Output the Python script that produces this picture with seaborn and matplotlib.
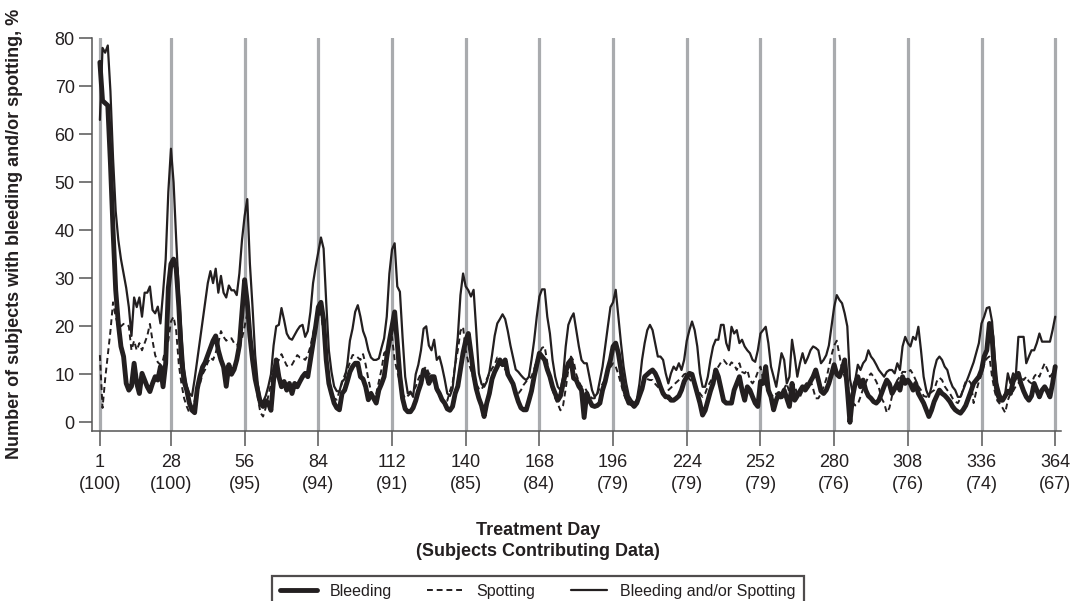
import pandas as pd
import matplotlib
matplotlib.use("Agg")
import matplotlib.pyplot as plt
import seaborn as sns
from matplotlib.lines import Line2D
from matplotlib import font_manager

sns.set_theme(style="ticks")
plt.rcParams["font.family"] = ["Liberation Sans", "DejaVu Sans"]

INK = "#231f20"
GRID = "#a9abae"

# percent of subjects per treatment day (days 1-364), one 28-day cycle per row
bleeding = [
    75, 67, 66.5, 66, 54, 40, 27.6, 20.6, 15.8, 13.7, 8.1, 6.7, 7.5, 12.3, 8.1, 6, 10.2, 8.8, 7.4, 6.4, 8.1, 9.5, 8.8, 11.6, 7.4, 12.3, 28, 33,
    34, 32, 24, 13, 8.5, 6.7, 4, 2.5, 2, 7, 9.5, 11.5, 12.5, 14, 15.5, 17, 18, 15, 13, 11.5, 7.5, 12, 10, 11, 13, 16, 23, 29.7,
    25, 18, 13, 9, 6.5, 4, 3.3, 4.5, 4, 2.5, 8.8, 13, 9.5, 7.4, 8.5, 6.7, 8.1, 6, 8.1, 7.4, 8.5, 9.5, 10.2, 9.5, 13, 16.5, 20, 24,
    25, 21.3, 13, 8.1, 6, 4, 3, 2.6, 6, 6.7, 8.5, 10.5, 11.6, 12.3, 12.3, 9.5, 9, 7.4, 4.7, 6, 5, 4, 6.7, 8, 9.5, 13.5, 17, 20,
    23, 16.5, 9.5, 5, 2.8, 2.2, 2.2, 3, 4.5, 6.5, 8.1, 10.9, 10.2, 8.1, 9.5, 9.5, 7, 6, 4.7, 4, 2.8, 2.5, 3.3, 6, 7.5, 11, 14.5, 17,
    18.5, 14.4, 10, 7, 5, 3.5, 1.2, 4, 6, 9, 10.5, 11.6, 13, 12, 13, 10, 9, 8, 6, 4.3, 3, 2.6, 2.6, 4.5, 6.5, 9.5, 12, 14.4,
    13.7, 13, 11, 9.5, 7.4, 6, 4.6, 5.5, 8, 10.5, 12.3, 13, 9.2, 8.8, 7.5, 6.7, 1, 6, 4.6, 3.5, 3.3, 3.5, 4, 6.7, 8.5, 11, 13, 15.8,
    16.5, 14.4, 11, 7.5, 5.5, 4, 4, 3.3, 4, 5.5, 7, 9.5, 10, 10.5, 10.9, 10.2, 9, 7.4, 6, 5.3, 5.3, 4.6, 4.6, 5, 5.5, 6.7, 8.5, 9.5,
    10.2, 10, 8, 6, 4, 1.5, 2.5, 4.5, 6.5, 8.1, 10.9, 9.5, 7, 4.5, 4, 4, 4, 6.7, 8.1, 9.5, 6.7, 4.6, 7.4, 6.7, 5.3, 4, 3.3, 8.5,
    8.1, 11.6, 6.7, 5.3, 2.6, 4.6, 6, 5.3, 6.7, 5, 3.3, 8.1, 4.6, 5.5, 6.5, 7.4, 6.7, 7.5, 8.5, 9.5, 10.9, 8.8, 6.5, 6, 6.7, 8.1, 10, 12,
    10, 9.5, 11, 13, 7, 0, 5.3, 8.1, 9.5, 7.4, 8.8, 6.7, 5.5, 5, 4.3, 4, 4.6, 6, 7.5, 8.8, 8, 6, 7, 8.1, 6.7, 9.5, 8.1, 8.8,
    8, 6.7, 8.1, 6, 5, 4, 2.6, 1.2, 2.5, 4.3, 5.5, 6.7, 6, 5.6, 5, 4.3, 3.3, 2.6, 2.2, 1.9, 2.6, 3.5, 5, 6.5, 8.1, 8.8, 9.5, 10.9,
    13.7, 15, 20.6, 17.8, 9.5, 6, 4.6, 4.6, 5.5, 6.5, 6, 8.5, 9.5, 10.2, 8, 6.5, 5.3, 4.6, 5.5, 8.1, 6.7, 5.3, 6.7, 7.4, 6.5, 5.3, 8.1, 11.6,
]

spotting = [
    14, 3, 9, 14, 19, 25, 22, 20, 20, 20.5, 20.5, 20, 15, 17, 15, 16.5, 15, 16.5, 18, 20.5, 17, 14, 12.5, 12, 13, 15.5, 17, 21,
    22, 19, 12, 8, 5, 3.3, 2, 2.5, 4.5, 6.5, 8, 10, 11, 12.5, 13.5, 13, 14.5, 16.5, 19, 17.8, 17, 17.5, 17.5, 16.5, 16, 17, 17.5, 20,
    22.7, 19, 14, 9, 5, 2, 1.2, 3, 5.5, 8, 11.6, 12, 13, 14.2, 13, 11.8, 11.6, 12, 13, 14, 13.5, 13.5, 13, 14, 15.8, 18.5, 21, 22.3,
    22.7, 18.5, 12.5, 9, 6, 5, 4.7, 6.5, 8.2, 9.8, 10.9, 12.5, 14, 14, 13.5, 13, 14.2, 12, 9, 6.5, 5.3, 6, 8.5, 11, 14.4, 15, 16, 17.8,
    13, 10.5, 8.5, 6, 5, 5.5, 6, 6.5, 7.4, 9, 10.2, 11, 11.6, 10.2, 9.8, 8, 6.5, 5.5, 4.7, 4.5, 4.5, 6.5, 8.1, 12, 15, 19, 19.9, 15,
    12.5, 10.9, 9, 8, 7, 6.7, 8.1, 9, 10.2, 11.2, 12, 13.5, 13.3, 12, 11, 10.2, 9, 7.5, 6.3, 6, 6.7, 7.8, 8.5, 9, 9.5, 11, 13, 14.4,
    15.5, 15.8, 12.5, 9, 6.7, 5, 3.8, 2.5, 3.5, 7, 11, 13.7, 12.8, 10, 8.5, 7.4, 7.4, 6.5, 5.7, 5, 5, 6, 7.2, 8, 9, 10.5, 11.5, 12.3,
    11.6, 10, 8, 6, 4.6, 4, 3.5, 3.5, 4.6, 6.5, 8, 9.3, 9, 8.8, 8.8, 8, 7.4, 6.8, 6, 6, 6.7, 7.2, 7.8, 8.3, 8.8, 9.3, 10, 10.2,
    9, 8.5, 7.8, 7, 6, 5.3, 6, 7.5, 8.5, 9.5, 10.7, 11.6, 12.5, 13, 12.3, 11.6, 12.5, 12, 10.9, 12.3, 10.5, 10.2, 10.9, 8.8, 8.1, 9, 10.5, 11.6,
    9, 7.8, 6.5, 5.8, 5.3, 6, 4.6, 5.5, 7, 8.1, 6.2, 7.5, 7.5, 6, 5.3, 6.5, 7.8, 8.5, 8.8, 7, 5, 5, 6, 7.4, 9, 11.5, 14, 16,
    17, 14, 11, 9.5, 8.1, 5.5, 4.2, 3.5, 3.8, 5.3, 7, 8.2, 9.5, 10.2, 9.5, 8.5, 7.2, 5, 4, 2, 3, 5.5, 7.5, 8.8, 9.5, 10.5, 10.5, 10.3,
    10.9, 10, 8.8, 7.5, 6.7, 5.5, 5.3, 5.8, 6.3, 6.7, 8.5, 9.3, 8.8, 7.5, 6.7, 6, 5, 4.3, 4, 5, 7, 8.5, 8.8, 8.1, 4, 6.5, 8.5, 10,
    12, 13.3, 13.7, 9.5, 6.5, 4.5, 3.8, 3, 2, 4.6, 6, 6.5, 7.5, 8.1, 9.5, 8.8, 9.5, 8.5, 8.1, 9.5, 10.2, 9.5, 11, 12.3, 11, 9.5, 10.2, 11.6,
]

bleeding_or_spotting = [
    63, 78, 77, 78.5, 69, 55, 44, 38, 34, 31, 28, 24, 18, 26, 24, 26, 22, 27, 27, 28.3, 23.4, 22.7, 24.1, 20.6, 27, 34, 48, 57,
    50, 38, 27, 18.5, 11, 7.5, 6, 5.5, 9, 13, 17, 21, 25, 29, 31.5, 29, 32, 27, 30.5, 27, 26, 28.5, 27.5, 27.5, 26.5, 31, 38, 43,
    46.5, 33, 24, 14, 8, 4.7, 4.3, 5.5, 7.5, 10, 16, 20, 20.3, 23.8, 21.3, 18.5, 17.5, 17.2, 18.2, 19.2, 20, 20.3, 17.8, 19, 23, 29, 32.5, 35.5,
    38.5, 36.2, 25, 15, 10.5, 7.5, 6.5, 6.4, 8.5, 9, 12, 17, 19.5, 23, 24.4, 22, 19, 17.5, 15, 13.5, 13, 13, 13.3, 15.5, 17.5, 22, 31, 36,
    37.3, 28.3, 27.2, 17.8, 9.5, 6, 6.4, 5.3, 10, 12, 15, 19.5, 20, 16, 15, 17.2, 13, 13.7, 11.6, 9, 6, 5.5, 7, 12, 17.8, 26.5, 31, 28.3,
    27.5, 26.2, 27.6, 19.2, 10.2, 8, 7.4, 8.5, 10.5, 14, 18, 20.6, 21.5, 22.5, 21.5, 19, 16, 13.5, 11, 10.5, 9.8, 9.2, 8.8, 9.5, 13, 17, 22, 26.2,
    27.7, 27.7, 22, 18.5, 13, 9.5, 7.4, 6.7, 9.5, 15.8, 20.3, 21.7, 22.7, 19.2, 15.8, 13, 12.3, 12.3, 9.5, 6.7, 5.3, 6, 8.8, 11.6, 15.8, 19.9, 24, 25,
    27.6, 22, 16.5, 11.6, 8.1, 5.5, 4.6, 4, 4.6, 8, 13, 16.5, 19.2, 20.3, 19.2, 16.5, 13.7, 13.7, 13, 10.2, 8.1, 10.2, 11.6, 10.9, 12.3, 10.9, 13, 17,
    19.2, 21, 19.2, 15.8, 10.2, 7.4, 7.4, 9.5, 13, 15.8, 17.2, 17.2, 20.3, 20.3, 16.5, 15, 19.9, 18.5, 19.2, 16.5, 17.2, 15.8, 15, 14.4, 13, 12.6, 15, 18.5,
    19.2, 19.9, 16.5, 11.6, 9.5, 7.4, 10.9, 14.4, 13, 8.1, 9.5, 17.2, 13.7, 9.5, 12.3, 14.4, 12.3, 13.5, 15, 15.8, 15.5, 15, 12.3, 13, 14, 16, 20, 24,
    26.5, 25.5, 24.8, 22.7, 20, 9, 6.2, 8.8, 12, 10.9, 12.3, 13, 15, 13.7, 13, 12, 10.9, 10.2, 9.5, 10.5, 10.9, 10.9, 10.2, 12.3, 10.9, 15.8, 17.8, 16.5,
    15.8, 17.8, 17.2, 19.9, 15, 9.5, 6.7, 5.3, 7.4, 10.9, 13, 13.7, 13, 11.6, 10.9, 8.8, 7.4, 6.7, 5.3, 5.3, 6.7, 8.1, 9.5, 11, 12.5, 14.5, 16.5, 20.6,
    22, 23.8, 24, 21, 13.7, 8.1, 6, 4.6, 6, 10.2, 8.1, 10.2, 9.5, 17.8, 17.8, 17.8, 12.3, 13.7, 15, 15, 16.5, 18.5, 16.8, 16.8, 16.8, 16.8, 19.2, 22,
]

tick_days = [1, 28, 56, 84, 112, 140, 168, 196, 224, 252, 280, 308, 336, 364]
subjects = [100, 100, 95, 94, 91, 85, 84, 79, 79, 79, 76, 76, 74, 67]


def tick_family():
    """
    Condensed face for the tick labels if the narrow Liberation cut exists.
    """
    names = {f.name for f in font_manager.fontManager.ttflist}
    if "Liberation Sans Narrow" in names:
        return ["Liberation Sans Narrow", "DejaVu Sans"], 15
    return ["Liberation Sans", "DejaVu Sans"], 13


def build_frame():
    days = list(range(1, len(bleeding) + 1))
    return pd.DataFrame({
        "day": days,
        "bleeding": bleeding,
        "spotting": spotting,
        "either": bleeding_or_spotting,
    })


def main():
    df = build_frame()
    family, tick_size = tick_family()

    fig = plt.figure(figsize=(10.7, 6.01), dpi=100)
    fig.patch.set_facecolor("white")
    ax = fig.add_axes([92 / 1070, 1 - 430.7 / 601, 969 / 1070, 392.4 / 601])
    ax.set_facecolor("white")

    for d in tick_days:
        ax.axvline(d, color=GRID, lw=2.3, zorder=1)

    sns.lineplot(data=df, x="day", y="either", ax=ax, color=INK,
                 lw=1.6, zorder=3, legend=False)
    sns.lineplot(data=df, x="day", y="spotting", ax=ax, color=INK,
                 lw=1.4, dashes=False, zorder=3, legend=False)
    ax.lines[-1].set_dashes((3, 2))
    sns.lineplot(data=df, x="day", y="bleeding", ax=ax, color=INK,
                 lw=3.5, zorder=4, legend=False)

    ax.set_xlim(-2, 366.2)
    ax.set_ylim(-1.75, 80)
    ax.set_yticks(range(0, 81, 10))
    ax.set_xticks(tick_days,
                  labels=[f"{d}\n({n})" for d, n in zip(tick_days, subjects)])
    ax.set_xlabel("")
    ax.set_ylabel("")

    ax.tick_params(axis="y", length=9.5, width=1.1, pad=3,
                   labelsize=tick_size, color="#555555", labelcolor=INK)
    ax.tick_params(axis="x", length=11, width=1.1, pad=6,
                   labelsize=tick_size, color="#555555", labelcolor=INK)
    for lbl in ax.get_xticklabels() + ax.get_yticklabels():
        lbl.set_family(family)
    for lbl in ax.get_xticklabels():
        lbl.set_linespacing(1.35)

    sns.despine(ax=ax)
    for side in ("left", "bottom"):
        ax.spines[side].set_color("#555555")
        ax.spines[side].set_linewidth(1.1)

    fig.text(15 / 1070, 1 - 234 / 601,
             "Number of subjects with bleeding and/or spotting, %",
             rotation=90, ha="center", va="center",
             fontsize=13, fontweight="bold", color=INK)
    fig.text(538 / 1070, 1 - 541 / 601,
             "Treatment Day\n(Subjects Contributing Data)",
             ha="center", va="center", fontsize=13, fontweight="bold",
             color=INK, linespacing=1.3)

    handles = [
        Line2D([], [], color=INK, lw=3.5),
        Line2D([], [], color=INK, lw=1.4, dashes=(3, 2)),
        Line2D([], [], color=INK, lw=1.6),
    ]
    labels = ["Bleeding", "Spotting", "Bleeding and/or Spotting"]
    leg = fig.legend(handles, labels, loc="upper center",
                     bbox_to_anchor=(538 / 1070, 1 - 568 / 601), ncol=3,
                     frameon=True, fancybox=False, fontsize=11.5,
                     handlelength=2.3, handletextpad=0.8,
                     columnspacing=2.2, borderpad=0.5)
    leg.get_frame().set_edgecolor(INK)
    leg.get_frame().set_linewidth(1.6)
    for t in leg.get_texts():
        t.set_color(INK)

    fig.savefig("out.png", dpi=100, facecolor="white")
    plt.close(fig)


if __name__ == "__main__":
    main()
